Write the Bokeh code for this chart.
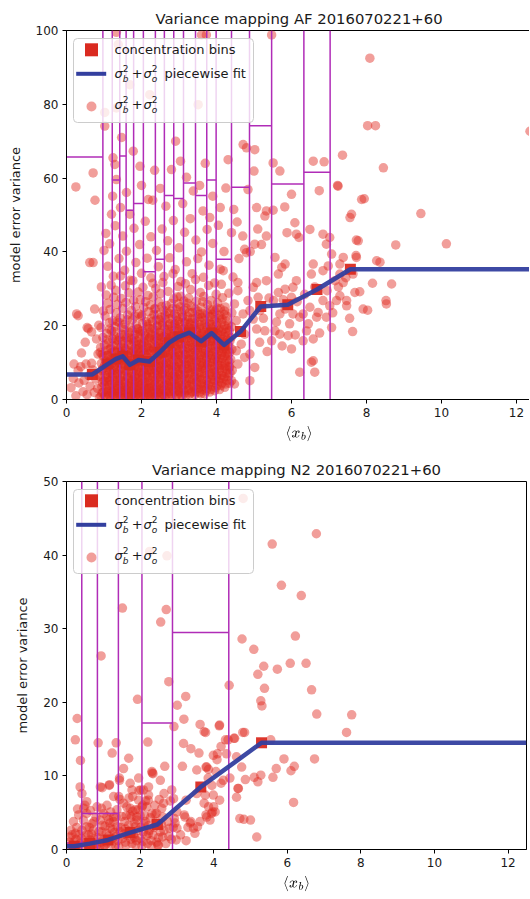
from bokeh.plotting import figure
from bokeh.layouts import column
from bokeh.models import Range1d, FixedTicker, BoxAnnotation, TeX
from bokeh.embed import file_html
from bokeh.resources import INLINE
from bokeh.core.properties import value

FONT = "DejaVu Sans"
RED = "#e0281e"
SQ_RED = "#da2a20"
BLUE = "#333f9f"
PURPLE = "#b02cb7"
INK = "#1a1a1a"

# ---------------------------------------------------------------- AF panel data
AF_TITLE = "Variance mapping AF 2016070221+60"
AF_XMAX = 12.4
AF_YMAX = 100
AF_YTICKS = [0, 20, 40, 60, 80, 100]
XTICKS = [0, 2, 4, 6, 8, 10, 12]

AF_BIN_X = [0.69, 1.10, 1.32, 1.50, 1.69, 1.92, 2.21, 2.49, 2.74, 2.99, 3.28, 3.59, 3.87, 4.20, 4.64, 5.18, 5.90, 6.68, 7.57]
AF_BIN_Y = [6.8, 9.6, 11.0, 11.7, 9.4, 10.7, 10.3, 12.8, 15.4, 17.0, 18.1, 15.8, 18.0, 14.8, 18.4, 25.2, 25.7, 29.8, 35.3]
AF_FIT_X = [0.0, 0.69, 1.10, 1.32, 1.50, 1.69, 1.92, 2.21, 2.49, 2.74, 2.99, 3.28, 3.59, 3.87, 4.20, 4.64, 5.18, 5.90, 6.68, 7.57, 12.4]
AF_FIT_Y = [6.8, 6.8, 9.6, 11.0, 11.7, 9.4, 10.7, 10.3, 12.8, 15.4, 17.0, 18.1, 15.8, 18.0, 14.8, 18.4, 25.2, 25.7, 29.8, 35.3, 35.3]
AF_EDGES = [0.97, 1.22, 1.42, 1.59, 1.79, 2.05, 2.37, 2.61, 2.86, 3.12, 3.44, 3.74, 3.99, 4.40, 4.88, 5.47, 6.33, 7.03]
AF_TOP_X0 = [0.0, 1.22, 1.42, 1.59, 1.79, 2.05, 2.37, 2.61, 2.86, 3.12, 3.44, 3.74, 3.99, 4.40, 4.88, 5.47, 6.33]
AF_TOP_X1 = [0.97, 1.42, 1.59, 1.79, 2.05, 2.37, 2.61, 2.86, 3.12, 3.44, 3.74, 3.99, 4.40, 4.88, 5.47, 6.33, 7.03]
AF_TOP_Y = [65.7, 59.5, 66.0, 51.3, 53.1, 34.6, 38.0, 55.3, 54.5, 58.7, 55.3, 59.5, 38.0, 57.5, 74.2, 58.4, 61.6]

AF_PTS_LEFT = [(0.12,3.2),(0.18,5.7),(0.25,1.0),(0.31,7.8),(0.33,4.5),(0.38,8.9),(0.44,2.1),(0.47,5.2),(0.52,9.6),(0.55,1.3),
    (0.60,6.4),(0.63,3.6),(0.67,9.8),(0.70,8.0),(0.74,1.9),(0.78,5.5),(0.80,16.4),(0.83,3.0),(0.84,12.3),(0.88,6.7),
    (0.90,12.8),(0.40,12.6),(0.50,15.5),(0.86,20.1),(0.75,24.5),(0.88,0.5),(0.20,9.6),(0.27,23.2),(0.31,22.7),(0.55,19.5),
    (0.58,19.2),(0.67,18.3),(0.62,37.1),(0.71,37.1),(0.25,57.6),(0.71,61.4),(0.76,54.0),(0.93,30.5)]

AF_PTS_UPPER = [(1.02,74.1),(1.33,99.5),(1.38,96.2),(1.69,85.3),(2.22,82.6),(1.02,77.8),(1.33,79.0),(3.51,79.9),(3.60,98.8),(3.73,98.8),
    (5.47,98.8),(8.09,92.5),(1.47,71.0),(1.78,67.3),(1.96,63.2),(1.24,65.5),(1.29,63.7),(1.33,59.6),(1.23,55.1),(1.44,52.0),
    (1.69,50.2),(2.18,54.2),(2.30,54.0),(2.91,70.0),(3.04,64.6),(3.38,56.5),(3.64,51.1),(3.82,49.3),(4.31,65.0),(4.71,69.1),
    (4.80,68.2),(5.02,67.7),(5.00,61.9),(5.51,64.1),(5.69,61.9),(4.84,56.9),(4.46,51.5),(5.07,52.0),(5.29,49.7),(5.33,51.1),
    (5.51,51.3),(5.82,52.2),(6.00,55.6),(6.09,47.9),(5.88,45.2),(6.13,44.8),(6.20,43.9),(6.49,46.1),(6.58,64.6),(6.87,64.4),
    (6.74,56.6),(6.84,44.8),(7.02,43.9),(7.24,57.8),(7.36,66.2),(7.56,49.3),(7.60,50.2),(7.78,43.0),(7.87,54.2),(9.45,50.4),
    (10.13,42.2),(12.36,72.7),(8.03,74.2),(8.24,74.2),(8.45,62.8),(7.94,54.4),(7.23,58.0),(8.78,41.9),(8.27,37.6),(8.36,37.2),
    (8.67,31.3),(8.52,26.8),(8.53,25.9),(8.03,24.2),(8.16,31.5),(7.82,29.2),(7.63,18.4),(7.47,25.4),(7.73,43.2),(7.72,39.0)]

AF_PTS_MID = [(1.05,45.0),(1.15,42.2),(1.30,47.1),(1.50,44.3),(1.60,40.2),(1.80,46.4),(1.95,42.0),(2.10,48.3),(2.25,44.1),(2.40,40.4),
    (2.55,46.2),(2.70,43.0),(2.85,48.5),(3.00,41.1),(3.15,45.3),(3.30,49.0),(3.45,43.2),(3.60,40.0),(3.75,46.1),(3.90,42.3),
    (4.05,47.2),(1.10,36.1),(1.25,33.4),(1.40,38.2),(1.55,35.0),(1.70,32.3),(1.85,37.1),(2.00,34.2),(2.15,38.3),(2.30,31.5),
    (2.45,36.0),(2.60,33.3),(2.75,38.4),(2.90,35.2),(3.05,32.0),(3.20,37.3),(3.35,34.1),(3.50,38.2),(3.65,33.1),(3.80,36.4),
    (3.95,31.6),(4.10,35.3),(4.20,40.1),(1.20,50.2),(1.60,56.1),(2.00,58.0),(2.50,57.2),(2.65,52.4),(3.10,53.1),(3.20,60.2),
    (3.55,58.0),(3.90,55.1),(4.10,52.0),(4.25,57.3),(1.00,40.4),(2.35,62.1),(2.80,62.3),(3.70,64.0),(4.40,45.2),(4.55,48.1),
    (4.60,38.2),(4.70,44.3),(4.90,40.1),(5.10,46.2),(5.20,42.0)]

AF_PTS_RIGHT = [(4.18,34.9),(4.44,33.2),(4.57,31.7),(4.75,40.7),(4.80,39.8),(5.02,42.1),(5.33,44.3),(5.56,38.5),(5.74,35.8),(5.83,36.7),
    (5.65,34.0),(5.33,32.2),(5.07,31.7),(5.11,27.7),(4.98,30.4),(4.84,26.8),(4.57,29.5),(4.48,25.9),(4.71,23.2),(4.53,21.4),
    (4.75,17.7),(4.66,15.0),(4.89,12.3),(5.02,8.7),(5.07,19.1),(5.29,18.6),(5.47,15.9),(5.56,18.6),(5.69,17.7),(5.91,17.3),
    (6.00,13.7),(6.22,7.4),(6.53,10.1),(6.62,7.4),(6.31,15.9),(6.58,16.4),(6.40,18.6),(6.67,22.3),(6.71,23.6),(6.93,22.3),
    (6.84,26.8),(7.02,25.4),(7.07,19.5),(7.29,28.1),(7.20,26.8),(7.38,31.7),(6.84,34.9),(6.98,36.2),(7.07,39.4),(6.93,42.1),
    (6.53,34.0),(6.58,36.7),(6.13,32.2),(6.04,30.4),(5.83,29.9),(6.00,27.7),(5.83,24.5),(6.04,23.2),(6.31,23.2),(6.49,25.0),
    (5.69,23.2),(5.65,29.0),(5.52,26.8),(4.89,24.1),(4.98,21.8),(5.16,24.1),(4.53,13.2),(4.35,8.7),(4.57,9.6),(4.75,11.4),
    (4.89,5.1),(4.48,4.2),(6.58,10.5),(6.22,22.3),(7.38,38.5),(7.73,38.5),(7.29,36.7),(7.16,32.2),(7.29,34.0),(7.47,26.8),
    (7.69,29.0),(7.91,24.5),(7.64,34.0),(5.25,22.0),(5.40,27.5),(5.60,21.0),(5.78,27.0),(5.95,20.5),(6.15,26.5),(6.35,28.5),
    (6.45,20.5),(6.62,30.5),(6.75,18.0),(6.95,29.5),(7.10,23.5),(7.25,30.5),(7.45,33.0),(7.55,22.0),(5.35,13.0),(5.15,15.5),
    (5.75,14.5),(6.10,17.5)]

AF_PTS_DENSE_A = [
    (0.92,0.9),(0.94,3.4),(0.90,6.2),(0.93,9.8),(0.91,14.1),(0.92,19.5),
    (0.98,2.0),(1.00,5.1),(0.96,8.3),(0.99,11.6),(0.97,16.8),(0.98,24.0),
    (1.05,0.6),(1.07,2.8),(1.03,4.9),(1.06,7.7),(1.04,10.4),(1.05,13.2),(1.07,17.9),(1.03,22.6),(1.06,28.3),
    (1.12,1.7),(1.14,3.9),(1.10,6.6),(1.13,9.1),(1.11,12.0),(1.12,15.4),(1.14,20.8),(1.10,26.1),
    (1.18,0.4),(1.20,2.5),(1.16,5.3),(1.19,8.0),(1.17,10.9),(1.18,13.9),(1.20,18.6),(1.16,24.4),(1.19,31.0),
    (1.25,1.3),(1.27,3.6),(1.23,6.0),(1.26,8.7),(1.24,11.5),(1.25,14.6),(1.27,17.2),(1.23,21.3),(1.26,27.7),
    (1.32,0.8),(1.34,2.9),(1.30,4.7),(1.33,7.2),(1.31,9.6),(1.32,12.8),(1.34,16.1),(1.30,19.7),(1.33,23.5),(1.31,29.6),
    (1.38,1.9),(1.40,4.2),(1.36,6.8),(1.39,10.1),(1.37,13.4),(1.38,15.9),(1.40,20.9),(1.36,25.8),
    (1.45,0.5),(1.47,2.4),(1.43,5.6),(1.46,8.4),(1.44,11.2),(1.45,14.2),(1.47,17.7),(1.43,22.1),(1.46,27.4),(1.44,33.5),
    (1.52,1.5),(1.54,3.3),(1.50,6.4),(1.53,9.3),(1.51,12.4),(1.52,15.1),(1.54,18.9),(1.50,24.7),
    (1.58,0.7),(1.60,2.7),(1.56,4.6),(1.59,7.6),(1.57,10.6),(1.58,13.6),(1.60,16.7),(1.56,20.4),(1.59,26.3),(1.57,30.8),
    (1.65,1.1),(1.67,3.8),(1.63,5.9),(1.66,8.9),(1.64,11.8),(1.65,14.9),(1.67,18.2),(1.63,22.9),(1.66,28.9),
    (1.72,0.3),(1.74,2.2),(1.70,4.4),(1.73,7.0),(1.71,9.9),(1.72,12.6),(1.74,16.3),(1.70,19.4),(1.73,24.1),
    (1.78,1.6),(1.80,3.1),(1.76,5.4),(1.79,8.2),(1.77,10.8),(1.78,13.1),(1.80,15.6),(1.76,21.7),(1.79,26.9),(1.77,32.2),
    (1.85,0.9),(1.87,2.6),(1.83,4.8),(1.86,6.9),(1.84,9.4),(1.85,12.2),(1.87,14.7),(1.83,17.6),(1.86,20.2),(1.84,25.2),
    (1.92,1.8),(1.94,3.7),(1.90,6.1),(1.93,8.6),(1.91,11.3),(1.92,13.8),(1.94,16.9),(1.90,19.1),(1.93,23.2),(1.91,29.1),
    (1.98,0.5),(2.00,2.3),(1.96,5.0),(1.99,7.4),(1.97,10.2),(1.98,12.9),(2.00,15.3),(1.96,18.4),(1.99,22.4),(1.97,27.0),
    (2.05,1.2),(2.07,3.5),(2.03,5.7),(2.06,8.1),(2.04,10.7),(2.05,13.5),(2.07,16.4),(2.03,20.6),(2.06,24.9),(2.04,30.4),
    (2.12,0.7),(2.14,2.9),(2.10,4.5),(2.13,6.7),(2.11,9.2),(2.12,11.9),(2.14,14.4),(2.10,17.3),(2.13,21.1),(2.11,26.5),
    (2.18,1.4),(2.20,3.2),(2.16,5.9),(2.19,8.8),(2.17,11.4),(2.18,14.0),(2.20,16.6),(2.16,19.8),(2.19,23.8),(2.17,28.2),
    (2.25,0.4),(2.27,2.1),(2.23,4.3),(2.26,7.3),(2.24,9.7),(2.25,12.5),(2.27,15.2),(2.23,18.1),(2.26,22.0),(2.24,25.6),(2.25,33.0),
    (2.32,1.7),(2.34,3.9),(2.30,6.3),(2.33,8.5),(2.31,11.0),(2.32,13.7),(2.34,16.2),(2.30,19.3),(2.33,23.0),(2.31,27.8)]

AF_PTS_DENSE_B = [
    (2.38,0.8),(2.40,2.7),(2.36,5.2),(2.39,7.8),(2.37,10.3),(2.38,13.0),(2.40,15.8),(2.36,18.8),(2.39,21.5),(2.37,24.6),(2.38,30.1),
    (2.45,1.9),(2.47,4.1),(2.43,6.6),(2.46,9.0),(2.44,11.7),(2.45,14.3),(2.47,17.4),(2.43,20.1),(2.46,26.4),
    (2.52,0.6),(2.54,3.0),(2.50,5.5),(2.53,8.0),(2.51,10.5),(2.52,13.3),(2.54,15.5),(2.50,18.3),(2.53,22.3),(2.51,28.7),
    (2.58,1.3),(2.60,3.6),(2.56,6.9),(2.59,9.5),(2.57,12.1),(2.58,14.8),(2.60,17.0),(2.56,20.7),(2.59,24.2),(2.57,31.7),
    (2.65,2.2),(2.67,4.6),(2.63,7.1),(2.66,9.8),(2.64,12.7),(2.65,15.0),(2.67,18.0),(2.63,21.8),(2.66,25.5),
    (2.72,0.9),(2.74,3.3),(2.70,5.8),(2.73,8.3),(2.71,11.1),(2.72,13.6),(2.74,16.5),(2.70,19.0),(2.73,23.4),(2.71,29.3),
    (2.78,1.6),(2.80,4.0),(2.76,6.5),(2.79,9.3),(2.77,12.3),(2.78,14.7),(2.80,17.8),(2.76,20.5),(2.79,26.0),
    (2.85,2.8),(2.87,5.3),(2.83,7.9),(2.86,10.6),(2.84,13.2),(2.85,16.0),(2.87,18.7),(2.83,22.2),(2.86,27.3),(2.84,34.1),
    (2.92,1.0),(2.94,3.7),(2.90,6.2),(2.93,8.9),(2.91,11.6),(2.92,14.5),(2.94,17.1),(2.90,20.0),(2.93,24.5),
    (2.98,2.4),(3.00,4.9),(2.96,7.5),(2.99,10.1),(2.97,12.8),(2.98,15.6),(3.00,18.5),(2.96,21.4),(2.99,25.9),(2.97,30.6),
    (3.05,1.4),(3.07,3.9),(3.03,6.7),(3.06,9.4),(3.04,12.0),(3.05,14.9),(3.07,17.6),(3.03,20.3),(3.06,23.7),(3.04,28.0),
    (3.12,2.6),(3.14,5.4),(3.10,8.2),(3.13,10.8),(3.11,13.4),(3.12,16.3),(3.14,19.2),(3.10,22.7),(3.13,26.7),
    (3.18,1.1),(3.20,4.3),(3.16,7.0),(3.19,9.6),(3.17,12.2),(3.18,15.1),(3.20,18.1),(3.16,21.0),(3.19,24.8),(3.17,31.4),
    (3.25,2.9),(3.27,5.6),(3.23,8.4),(3.26,11.0),(3.24,13.9),(3.25,16.7),(3.27,19.5),(3.23,22.5),(3.26,27.5),
    (3.32,1.8),(3.34,4.5),(3.30,7.2),(3.33,9.9),(3.31,12.6),(3.32,15.4),(3.34,18.3),(3.30,20.8),(3.33,25.3),(3.31,29.8),
    (3.38,3.4),(3.40,6.0),(3.36,8.7),(3.39,11.4),(3.37,14.1),(3.38,16.9),(3.40,19.9),(3.36,23.6),
    (3.45,2.0),(3.47,4.8),(3.43,7.6),(3.46,10.3),(3.44,13.0),(3.45,15.7),(3.47,18.6),(3.43,21.9),(3.46,26.6),(3.44,32.5),
    (3.52,3.1),(3.54,5.9),(3.50,8.6),(3.53,11.3),(3.51,14.0),(3.52,16.6),(3.54,19.6),(3.50,24.0),
    (3.58,1.5),(3.60,4.4),(3.56,7.3),(3.59,10.0),(3.57,12.7),(3.58,15.3),(3.60,17.9),(3.56,21.2),(3.59,25.0),(3.57,29.0),
    (3.65,3.6),(3.67,6.4),(3.63,9.1),(3.66,11.8),(3.64,14.6),(3.65,17.5),(3.67,20.4),(3.63,23.3),(3.66,27.9),
    (3.72,2.3),(3.74,5.2),(3.70,8.0),(3.73,10.7),(3.71,13.3),(3.72,16.1),(3.74,18.9),(3.70,22.8),
    (3.78,4.0),(3.80,6.8),(3.76,9.5),(3.79,12.3),(3.77,15.0),(3.78,17.7),(3.80,20.6),(3.76,25.7),(3.79,30.9),
    (3.85,2.7),(3.87,5.5),(3.83,8.3),(3.86,11.1),(3.84,13.8),(3.85,16.5),(3.87,19.3),(3.83,22.4),(3.86,26.8),
    (3.92,4.6),(3.94,7.4),(3.90,10.2),(3.93,12.9),(3.91,15.8),(3.92,18.4),(3.94,21.6),(3.90,24.3),
    (3.98,3.2),(4.00,6.1),(3.96,8.8),(3.99,11.5),(3.97,14.4),(3.98,17.2),(4.00,20.0),(3.96,23.9),(3.99,28.5),
    (4.05,5.0),(4.07,7.8),(4.03,10.4),(4.06,13.1),(4.04,15.9),(4.05,18.8),(4.07,22.1),(4.03,26.2),
    (4.12,3.8),(4.14,6.5),(4.10,9.2),(4.13,12.0),(4.11,14.8),(4.12,17.4),(4.14,20.9),(4.10,24.6),(4.13,31.2),
    (4.18,5.7),(4.20,8.5),(4.16,11.2),(4.19,13.7),(4.17,16.4),(4.18,19.0),(4.20,23.1),(4.16,27.6),
    (4.25,4.2),(4.27,7.1),(4.23,9.7),(4.26,12.4),(4.24,15.2),(4.25,18.2),(4.27,21.3),(4.23,25.1),
    (4.32,6.3),(4.34,9.0),(4.30,11.9),(4.33,14.5),(4.31,17.3),(4.32,20.2),(4.33,28.8),
    (4.40,5.1),(4.42,7.9),(4.38,10.9),(4.41,13.6),(4.39,16.8),(4.40,19.7),(4.41,23.5)]

AF_PTS_DENSE_C = [
    (0.95,1.8),(0.96,4.6),(0.94,7.9),(0.95,12.2),
    (1.02,1.1),(1.01,3.9),(1.03,6.5),(1.02,9.4),(1.01,14.8),
    (1.08,2.2),(1.09,5.9),(1.08,8.8),(1.07,11.9),(1.09,16.2),
    (1.15,0.9),(1.16,3.1),(1.14,5.0),(1.15,7.4),(1.16,10.3),(1.14,13.6),(1.15,19.1),
    (1.22,1.9),(1.21,4.3),(1.23,6.9),(1.22,9.8),(1.21,12.7),(1.23,16.4),
    (1.28,0.6),(1.29,2.4),(1.28,5.1),(1.27,7.9),(1.29,10.5),(1.28,13.1),(1.27,18.4),
    (1.35,1.6),(1.36,3.7),(1.34,6.1),(1.35,8.5),(1.36,11.4),(1.34,14.8),(1.35,21.2),
    (1.42,0.9),(1.41,3.0),(1.43,5.2),(1.42,7.9),(1.41,9.9),(1.43,12.9),(1.42,16.8),
    (1.48,1.9),(1.49,4.1),(1.48,6.8),(1.47,9.7),(1.49,13.3),(1.48,15.8),(1.47,19.6),
    (1.55,0.4),(1.56,2.4),(1.54,5.0),(1.55,7.8),(1.56,10.9),(1.54,13.9),(1.55,17.5),
    (1.62,1.7),(1.61,3.6),(1.63,6.4),(1.62,9.2),(1.61,12.2),(1.63,15.8),(1.62,21.6),
    (1.68,0.6),(1.69,2.8),(1.68,5.2),(1.67,7.8),(1.69,10.4),(1.68,13.3),(1.67,16.9),
    (1.75,1.4),(1.76,3.9),(1.74,6.3),(1.75,9.3),(1.76,12.0),(1.74,14.5),(1.75,18.6),
    (1.82,0.7),(1.81,2.0),(1.83,4.1),(1.82,6.3),(1.81,8.7),(1.83,11.2),(1.82,13.8),(1.81,16.5),(1.83,22.6),
    (1.88,1.5),(1.89,3.4),(1.88,5.7),(1.87,8.0),(1.89,10.6),(1.88,13.4),(1.87,15.9),(1.89,19.2),
    (1.95,0.8),(1.96,2.8),(1.94,4.5),(1.95,7.3),(1.96,9.8),(1.94,12.4),(1.95,14.9),(1.96,17.8),
    (2.02,1.9),(2.01,4.2),(2.03,6.6),(2.02,9.2),(2.01,11.9),(2.03,14.7),(2.02,18.6),(2.01,22.8),
    (2.08,0.6),(2.09,2.4),(2.08,5.0),(2.07,7.5),(2.09,10.0),(2.08,12.6),(2.07,15.5),(2.09,18.0),
    (2.15,1.9),(2.16,3.8),(2.14,6.3),(2.15,8.0),(2.16,10.4),(2.14,13.2),(2.15,15.8),(2.16,20.4),
    (2.22,0.9),(2.21,2.9),(2.23,5.2),(2.22,7.9),(2.21,10.6),(2.23,13.2),(2.22,16.8),(2.21,19.2),
    (2.28,1.5),(2.29,3.6),(2.28,6.0),(2.27,8.1),(2.29,10.3),(2.28,14.2),(2.27,17.6),(2.29,21.2),
    (2.35,0.6),(2.36,2.7),(2.34,4.9),(2.35,7.2),(2.36,9.6),(2.34,12.3),(2.35,14.7),(2.36,17.2),(2.34,24.5),
    (2.42,1.7),(2.41,3.4),(2.43,6.0),(2.42,8.6),(2.41,11.2),(2.43,13.8),(2.42,16.7),(2.41,19.8),(2.43,23.0),
    (2.48,0.8),(2.49,2.8),(2.48,5.1),(2.47,7.6),(2.49,10.1),(2.48,12.5),(2.47,15.2),(2.49,18.0),(2.48,21.6),
    (2.55,1.6),(2.56,4.3),(2.54,6.7),(2.55,9.3),(2.56,11.8),(2.54,14.1),(2.55,16.9),(2.56,20.0),(2.54,25.2),
    (2.62,0.7),(2.61,2.6),(2.63,5.4),(2.62,8.1),(2.61,10.7),(2.63,13.4),(2.62,16.0),(2.61,19.3),(2.63,22.8),
    (2.68,1.5),(2.69,3.8),(2.68,6.1),(2.67,8.7),(2.69,11.4),(2.68,14.0),(2.67,16.8),(2.69,20.2),(2.68,23.9),
    (2.75,2.2),(2.76,5.0),(2.74,7.4),(2.75,10.0),(2.76,12.6),(2.74,15.5),(2.75,18.2),(2.76,21.9),
    (2.82,1.1),(2.81,3.6),(2.83,6.2),(2.82,8.9),(2.81,11.6),(2.83,14.2),(2.82,17.1),(2.81,19.8),(2.83,24.6),
    (2.88,2.0),(2.89,4.2),(2.88,6.9),(2.87,9.4),(2.89,12.0),(2.88,14.6),(2.87,17.4),(2.89,20.5),(2.88,23.2),
    (2.95,1.3),(2.96,3.4),(2.94,5.7),(2.95,8.2),(2.96,10.9),(2.94,13.6),(2.95,16.2),(2.96,19.1),(2.94,22.4),(2.95,27.8),
    (3.02,2.0),(3.01,4.5),(3.03,7.2),(3.02,9.8),(3.01,12.4),(3.03,15.1),(3.02,17.9),(3.01,21.0),(3.03,25.1),
    (3.08,1.0),(3.09,3.1),(3.08,5.8),(3.07,8.4),(3.09,11.1),(3.08,13.7),(3.07,16.6),(3.09,19.0),(3.08,22.3),
    (3.15,1.8),(3.16,4.0),(3.14,6.6),(3.15,9.3),(3.16,12.1),(3.14,14.5),(3.15,17.5),(3.16,20.6),(3.14,24.2),
    (3.22,2.5),(3.21,5.1),(3.23,7.6),(3.22,10.3),(3.21,12.9),(3.23,15.8),(3.22,18.7),(3.21,21.7),(3.23,26.1),
    (3.28,1.4),(3.29,3.9),(3.28,6.8),(3.27,9.3),(3.29,12.1),(3.28,14.6),(3.27,17.4),(3.29,20.4),(3.28,23.6),
    (3.35,2.2),(3.36,5.4),(3.34,8.2),(3.35,10.8),(3.36,13.6),(3.34,16.2),(3.35,19.2),(3.36,22.0),
    (3.42,1.3),(3.41,3.7),(3.43,6.3),(3.42,9.0),(3.41,11.8),(3.43,14.5),(3.42,17.6),(3.41,20.7),(3.43,24.5),
    (3.48,2.8),(3.49,5.5),(3.48,8.0),(3.47,10.6),(3.49,13.5),(3.48,16.2),(3.47,19.0),(3.49,22.3),
    (3.55,1.9),(3.56,4.1),(3.54,6.8),(3.55,9.4),(3.56,12.1),(3.54,14.7),(3.55,17.3),(3.56,20.2),(3.54,23.1),
    (3.62,2.7),(3.61,5.4),(3.63,8.4),(3.62,11.0),(3.61,13.7),(3.63,16.6),(3.62,19.1),(3.61,22.3),(3.63,26.5),
    (3.68,1.5),(3.69,4.0),(3.68,7.0),(3.67,9.6),(3.69,12.4),(3.68,15.2),(3.67,18.1),(3.69,21.5),
    (3.75,3.0),(3.76,5.9),(3.74,8.6),(3.75,11.4),(3.76,14.1),(3.74,16.9),(3.75,19.7),(3.76,23.4),
    (3.82,2.0),(3.81,4.6),(3.83,7.2),(3.82,10.0),(3.81,12.8),(3.83,15.7),(3.82,18.2),(3.81,21.0),(3.83,24.4),
    (3.88,3.5),(3.89,6.4),(3.88,9.1),(3.87,11.9),(3.89,14.6),(3.88,17.2),(3.87,20.3),(3.89,23.1),
    (3.95,2.4),(3.96,5.2),(3.94,8.0),(3.95,10.8),(3.96,13.4),(3.94,16.0),(3.95,18.9),(3.96,22.5),
    (4.02,3.8),(4.01,6.7),(4.03,9.4),(4.02,12.1),(4.01,14.9),(4.03,17.8),(4.02,20.8),(4.01,24.8),
    (4.08,2.7),(4.09,5.6),(4.08,8.4),(4.07,11.0),(4.09,13.9),(4.08,16.6),(4.07,19.4),(4.09,22.9),
    (4.15,4.5),(4.16,7.4),(4.14,10.0),(4.15,12.8),(4.16,15.7),(4.14,18.4),(4.15,21.7),
    (4.22,3.3),(4.21,6.2),(4.23,9.1),(4.22,11.8),(4.21,14.3),(4.23,17.0),(4.22,20.0),(4.21,24.0),
    (4.28,5.2),(4.29,8.0),(4.28,10.7),(4.27,13.4),(4.29,16.1),(4.28,19.2),(4.27,22.6),
    (4.35,4.4),(4.36,7.2),(4.34,10.2),(4.35,12.8),(4.36,15.9),(4.34,18.6)]

# ---------------------------------------------------------------- N2 panel data
N2_TITLE = "Variance mapping N2 2016070221+60"
N2_XMAX = 12.5
N2_YMAX = 50
N2_YTICKS = [0, 10, 20, 30, 40, 50]

N2_BIN_X = [0.21, 0.63, 1.13, 1.73, 2.47, 3.65, 5.30]
N2_BIN_Y = [0.45, 0.8, 1.3, 2.3, 3.4, 8.5, 14.5]
N2_FIT_X = [0.0, 0.21, 0.63, 1.13, 1.73, 2.47, 3.65, 5.30, 12.5]
N2_FIT_Y = [0.45, 0.45, 0.8, 1.3, 2.3, 3.4, 8.5, 14.5, 14.5]
N2_EDGES = [0.415, 0.84, 1.41, 2.05, 2.88, 4.41]
N2_TOP_X0 = [0.0, 0.415, 2.05, 2.88]
N2_TOP_X1 = [0.415, 1.41, 2.88, 4.41]
N2_TOP_Y = [0.9, 4.9, 17.2, 29.5]

N2_PTS_LOW = [(0.10,1.7),(0.19,1.0),(0.24,2.2),(0.37,0.8),(0.42,2.6),(0.55,3.1),(0.64,1.3),(0.73,2.6),(0.78,0.8),(0.96,2.4),
    (1.10,0.9),(1.19,2.9),(1.28,3.8),(1.33,0.6),(1.46,2.4),(1.50,4.5),(1.60,1.0),(1.69,3.3),(1.73,4.7),(1.78,0.8),
    (1.91,4.0),(2.00,1.5),(2.14,3.8),(2.18,1.9),(2.45,1.0),(0.46,4.0),(0.19,3.8),(0.33,4.7),(0.69,3.5),(0.92,4.0),
    (1.10,4.5),(0.55,4.9),(0.83,5.8),(0.55,6.5),(0.42,7.6),(0.37,8.5),(1.10,6.0),(1.28,7.2),(1.37,5.4),(1.64,5.8),
    (1.96,6.7),(2.18,5.8),(2.45,4.9),(2.59,5.6),(1.87,3.1),(2.09,2.4),(2.48,0.6),(2.61,1.7),(2.80,2.9),(2.93,4.2),
    (0.05,0.3),(0.15,0.6),(0.30,0.4),(0.50,0.9),(0.60,2.0),(0.85,1.6),(0.90,0.4),(1.00,1.3),(1.05,3.2),(1.15,1.8),
    (1.25,1.5),(1.40,1.2),(1.38,3.1),(1.55,2.1),(1.65,1.9),(1.82,2.0),(1.90,1.2),(2.05,0.5),(2.10,3.5),(2.25,2.6),
    (2.30,1.2),(2.38,3.0),(2.55,2.4),(2.70,0.8),(2.75,3.8),(2.85,1.4),(0.70,0.5),(0.28,3.0),(0.80,4.4),(1.20,5.1),
    (1.55,6.3),(1.80,5.2),(2.00,4.6),(2.28,4.3),(2.52,6.8),(0.65,5.3),(0.47,5.6),(1.01,4.9),(1.28,4.4),(1.73,5.6),
    (1.91,4.4),(2.05,5.8)]

N2_PTS_DENSE = [(0.08,1.0),(0.12,2.6),(0.22,0.3),(0.26,1.4),(0.34,2.0),(0.40,1.5),(0.45,0.5),(0.52,1.9),(0.58,0.7),(0.62,3.0),
    (0.68,2.1),(0.75,1.4),(0.82,0.6),(0.88,2.4),(0.94,1.0),(0.98,3.3),(1.04,0.5),(1.08,2.2),(1.13,1.2),(1.18,3.6),
    (1.22,0.7),(1.30,2.3),(1.35,1.8),(1.42,0.4),(1.48,3.0),(1.52,1.5),(1.58,3.8),(1.62,0.6),(1.70,2.5),(1.75,1.4),
    (1.84,3.6),(1.88,0.6),(1.95,2.6),(2.02,3.0),(2.08,1.1),(2.12,4.6),(2.20,0.8),(2.22,3.2),(2.35,2.0),(2.42,3.8),
    (2.50,1.6),(2.58,3.4),(2.65,2.6),(2.78,1.8),(2.90,3.0),(0.30,5.5),(0.50,6.0),(0.75,3.8),(0.95,5.6),(1.15,4.0),
    (1.35,4.4),(1.45,6.8),(1.62,4.6),(1.70,7.0),(1.95,5.4),(2.15,6.6),(2.40,6.0),(2.62,4.4),(0.15,2.0),(1.00,0.3),
    (1.25,2.7),(1.60,2.8),(1.85,1.6),(2.30,0.5),(2.95,3.6),(3.10,2.0),(3.25,1.2),(3.30,3.0)]

N2_PTS_MID = [(0.92,8.5),(1.17,8.8),(1.44,9.7),(1.42,7.2),(1.73,9.0),(2.02,8.1),(2.23,7.4),(2.33,10.4),(2.67,11.3),(3.15,11.3),
    (1.96,9.7),(1.78,8.1),(2.09,8.1),(2.32,10.6),(2.64,6.3),(2.91,6.9),(2.86,8.1),(3.54,10.8),(3.81,11.2),(3.99,12.8),
    (4.35,13.0),(4.62,12.6),(2.35,10.3),(2.55,9.4),(2.23,8.5),(1.97,8.0),(1.80,7.2),(2.22,6.7),(2.41,4.8),(2.65,7.6),
    (2.82,6.6),(3.00,5.1),(3.22,4.4),(3.36,3.6),(3.45,2.9),(3.63,3.8),(3.81,4.4),(3.94,4.9),(4.00,5.8),(3.74,6.3),
    (3.54,7.6),(3.77,7.4),(3.85,9.7),(4.06,10.6),(4.26,9.4),(3.25,6.7),(3.00,2.9),(3.49,2.2),(2.98,1.3),(2.50,0.6),
    (2.23,2.2),(1.76,4.4),(1.87,5.4),(2.07,6.0),(2.32,4.9),(3.20,4.7),(3.38,3.8),(3.56,3.1),(3.79,4.7),(3.97,5.1),
    (4.16,6.7),(4.20,9.0),(3.79,11.2)]

N2_PTS_UPPER = [(0.94,26.3),(0.29,17.8),(0.24,14.9),(0.38,12.1),(0.86,14.5),(1.35,14.5),(1.24,13.1),(1.69,12.4),(1.55,11.0),(1.44,9.4),
    (0.97,8.4),(1.16,8.7),(2.21,14.6),(2.92,16.7),(3.18,14.4),(3.19,17.7),(3.38,13.7),(3.63,17.0),(3.74,16.0),(3.60,13.1),
    (4.10,13.0),(4.15,16.8),(4.32,14.9),(4.55,15.1),(4.79,15.9),(4.76,11.2),(4.86,9.5),(4.67,8.3),(4.44,9.7),(4.42,22.3),
    (1.52,32.8),(2.71,32.6),(2.56,30.9),(2.78,22.8),(3.24,20.8),(3.01,19.6),(1.93,20.4),(4.80,47.7),(5.59,41.5),(6.79,42.9),
    (2.73,39.9),(2.26,40.5)]

N2_PTS_RIGHT = [(5.84,35.9),(6.38,34.5),(6.22,29.0),(4.77,28.6),(5.09,27.2),(5.36,24.9),(5.20,23.8),(5.73,24.5),(6.08,25.3),(6.51,25.3),
    (5.38,21.9),(6.66,21.7),(5.28,20.2),(5.31,19.5),(6.80,18.4),(7.75,18.3),(7.61,15.9),(6.74,12.3),(5.91,12.3),(6.19,11.3),
    (6.10,10.7),(5.70,11.0),(5.61,9.8),(6.17,6.4),(5.17,1.7),(5.00,4.0),(4.71,4.2),(4.82,4.1),(4.62,7.1),(4.66,8.3),
    (4.84,15.9),(4.57,15.1),(4.39,14.9),(5.55,14.9),(5.28,10.1),(5.10,9.8),(5.20,9.2),(4.16,16.9),(3.78,15.9),(4.20,14.0),
    (4.09,12.2),(3.86,10.9),(3.95,8.7),(3.99,7.4),(3.86,5.8),(3.90,4.0),(4.04,5.1)]


def style_axes(p, yticks):
    p.xaxis.ticker = FixedTicker(ticks=XTICKS)
    p.yaxis.ticker = FixedTicker(ticks=yticks)
    p.xgrid.grid_line_color = None
    p.ygrid.grid_line_color = None
    for ax in (p.xaxis[0], p.yaxis[0]):
        ax.minor_tick_line_color = None
        ax.major_tick_in = 0
        ax.major_tick_out = 4
        ax.major_tick_line_color = "black"
        ax.axis_line_color = "black"
        ax.major_label_text_font = FONT
        ax.major_label_text_font_size = "12px"
        ax.major_label_text_color = INK
        ax.major_label_standoff = 4
        ax.axis_label_text_font = FONT
        ax.axis_label_text_font_size = "13px"
        ax.axis_label_text_font_style = "normal"
        ax.axis_label_text_color = INK
    p.yaxis.axis_label = "model error variance"
    p.yaxis.axis_label_standoff = 10
    p.xaxis.axis_label = TeX(text=r"\langle x_b \rangle")
    p.xaxis.axis_label_standoff = 6
    p.outline_line_color = "black"
    p.outline_line_alpha = 1.0
    p.background_fill_color = "white"
    p.border_fill_color = "white"
    p.title.text_font = FONT
    p.title.text_font_size = "14.8px"
    p.title.text_font_style = "normal"
    p.title.text_color = INK
    p.title.align = "center"
    p.title.standoff = 7


def panel(title, xmax, ymax, yticks, fw, fh, bl, br, bt, bb, pts, bx, by, fx, fy, edges, tx0, tx1, ty):
    p = figure(title=title, x_range=Range1d(0, xmax), y_range=Range1d(0, ymax),
               frame_width=fw, frame_height=fh, min_border_left=bl, min_border_right=br,
               min_border_top=bt, min_border_bottom=bb, output_backend="svg", toolbar_location=None)
    style_axes(p, yticks)
    sx = xmax / fw
    sy = ymax / fh

    def X(px):
        return px * sx

    def Y(py):
        return ymax - py * sy

    xs = [q[0] for q in pts]
    ys = [q[1] for q in pts]
    p.scatter(xs, ys, marker="circle", size=9.5, fill_color=RED, fill_alpha=0.45, line_color=None)
    p.segment(x0=edges, y0=[0] * len(edges), x1=edges, y1=[ymax] * len(edges), line_color=PURPLE, line_width=1.5)
    p.segment(x0=tx0, y0=ty, x1=tx1, y1=ty, line_color=PURPLE, line_width=1.5)
    p.scatter(bx, by, marker="square", size=11, fill_color=SQ_RED, fill_alpha=0.95, line_color=None)
    p.line(fx, fy, line_width=4.5, line_color=BLUE, line_alpha=0.95, line_join="round")

    # legend
    p.add_layout(BoxAnnotation(left=X(7), right=X(187), top=Y(8), bottom=Y(92), fill_color="white", fill_alpha=0.8,
                               line_color="#cccccc", line_alpha=1.0, line_width=1, line_dash="solid", border_radius=4))
    r = p.scatter([X(25)], [Y(19.3)], marker="square", size=13, fill_color=SQ_RED, line_color=None)
    r.level = "overlay"
    r = p.line([X(9.7), X(39.7)], [Y(43.3), Y(43.3)], line_width=4, line_color=BLUE)
    r.level = "overlay"
    r = p.scatter([X(25)], [Y(76)], marker="circle", size=10, fill_color=RED, fill_alpha=0.45, line_color=None)
    r.level = "overlay"

    def txt(px, py, s, size="13px", style="normal"):
        rr = p.text([X(px)], [Y(py)], text=[s], text_font=value(FONT), text_font_size=value(size),
                    text_font_style=value(style), text_baseline=value("middle"), text_align=value("left"),
                    text_color=INK)
        rr.level = "overlay"

    tx = 48
    txt(tx, 19.3, "concentration bins")
    for row, tail in ((43.3, True), (74.0, False)):
        txt(tx, row, "σ", style="italic")
        txt(tx + 8.3, row - 5, "2", size="9px")
        txt(tx + 8.3, row + 5, "b", size="9px", style="italic")
        txt(tx + 17.3, row, "+")
        txt(tx + 29, row, "σ", style="italic")
        txt(tx + 37.3, row - 5, "2", size="9px")
        txt(tx + 37.3, row + 5, "o", size="9px", style="italic")
        if tail:
            txt(tx + 50, row, "piecewise fit")
    return p


p1 = panel(AF_TITLE, AF_XMAX, AF_YMAX, AF_YTICKS, 465, 369, 63, 1, 30, 51,
           AF_PTS_LEFT + AF_PTS_DENSE_A + AF_PTS_DENSE_B + AF_PTS_DENSE_C + AF_PTS_MID + AF_PTS_RIGHT + AF_PTS_UPPER,
           AF_BIN_X, AF_BIN_Y, AF_FIT_X, AF_FIT_Y, AF_EDGES, AF_TOP_X0, AF_TOP_X1, AF_TOP_Y)
p2 = panel(N2_TITLE, N2_XMAX, N2_YMAX, N2_YTICKS, 460, 368, 66, 3, 31, 48,
           N2_PTS_LOW + N2_PTS_DENSE + N2_PTS_MID + N2_PTS_UPPER + N2_PTS_RIGHT,
           N2_BIN_X, N2_BIN_Y, N2_FIT_X, N2_FIT_Y, N2_EDGES, N2_TOP_X0, N2_TOP_X1, N2_TOP_Y)

layout = column(p1, p2)
open("out.html", "w").write(file_html(layout, INLINE))
